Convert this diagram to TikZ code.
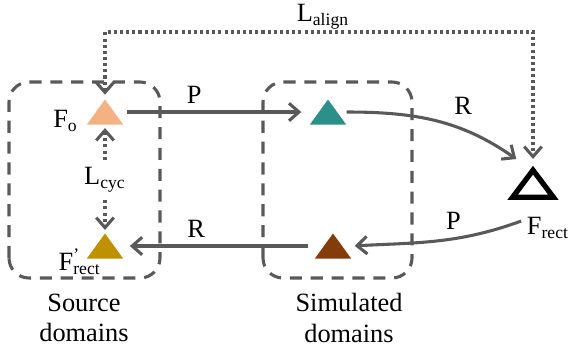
\documentclass[tikz,border=0pt]{standalone}
\usepackage{fontspec}
\setmainfont{Liberation Serif}
\usetikzlibrary{arrows.meta}

\definecolor{lngray}{HTML}{595959}
\definecolor{srcorange}{HTML}{F4B183}
\definecolor{srcgold}{HTML}{BF9000}
\definecolor{simteal}{HTML}{2A9088}
\definecolor{simbrown}{HTML}{843C0C}

\tikzset{
  tri/.style={minimum width=0.58cm, minimum height=0.4cm, inner sep=0pt,
    path picture={\fill[#1] (path picture bounding box.south west) -- (path picture bounding box.south east) -- (path picture bounding box.north) -- cycle;}},
  domainbox/.style={draw=lngray, line width=1.4pt, dash pattern=on 5.5pt off 4pt, rounded corners=0.32cm},
  flow/.style={draw=lngray, line width=1.4pt, ->},
  lossline/.style={draw=lngray, line width=1.4pt, dash pattern=on 1.4pt off 1.4pt},
}

\begin{document}
\begin{tikzpicture}[>={Straight Barb[length=1.6mm,width=2.8mm]}, font=\fontsize{12}{13.7}\selectfont]
\useasboundingbox (0,0) rectangle (9.088,5.76);

% Dashed domain boxes.
\draw[domainbox] (0.144,1.312) rectangle (2.56,4.448);
\draw[domainbox] (4.208,1.312) rectangle (6.592,4.448);

\node[tri=srcorange] (fo) at (1.68,3.968) {};
\node[tri=srcgold] (frp) at (1.68,1.824) {};
\node[tri=simteal] (st) at (5.248,3.968) {};
\node[tri=simbrown] (sb) at (5.328,1.824) {};
\node[minimum width=0.64cm, minimum height=0.42cm, inner sep=0pt] (fr) at (8.528,2.82) {};
\draw[line width=2.4pt, line join=miter] (fr.south west) -- (fr.south east) -- (fr.north) -- cycle;

\node[anchor=east] (folbl) at (1.37,3.82) {F\textsubscript{o}};
\node[anchor=east, inner sep=0pt] (frplbl) at (1.62,1.57) {F\rlap{\textsuperscript{'}}\textsubscript{rect}};
\node (frlbl) at (8.768,2.112) {F\textsubscript{rect}};
\node (cyc) at (1.68,2.88) {L\textsubscript{cyc}};

% Mapping arrows between domains.
\draw[flow, shorten <=0.5mm, shorten >=1.3mm] (fo.east) -- (st.west) node[pos=0.38, above] {P};
\draw[flow, shorten >=0.5mm] (st.east) to[out=0,in=145] node[pos=0.55, above right] {R} ([xshift=1mm,yshift=1.5mm]fr.north west);
\draw[flow, shorten >=0.5mm] ([xshift=-1.9mm,yshift=-3.8mm]fr.south) to[out=200,in=3] node[pos=0.4, above] {P} (sb.east);
\draw[flow, shorten <=1mm, shorten >=1mm] (sb.west) -- (frp.east) node[pos=0.62, above] {R};

% Dotted loss arrows.
\draw[lossline, ->, shorten >=0.5mm] (cyc.north) -- (fo.south);
\draw[lossline, ->, shorten >=0.5mm] (cyc.south) -- (frp.north);
\coordinate (alignmid) at (5.168,5.248);
\node[above, inner sep=1pt] (alignlbl) at (alignmid) {L\textsubscript{align}};
\draw[lossline, <->] ([yshift=0.7mm]fo.north) |- (alignmid) -| ([yshift=1.8mm]fr.north);

\node[align=center] (srclbl) at (1.344,0.672) {Source\\domains};
\node[align=center] (simlbl) at (5.584,0.672) {Simulated\\domains};
\end{tikzpicture}
\end{document}
